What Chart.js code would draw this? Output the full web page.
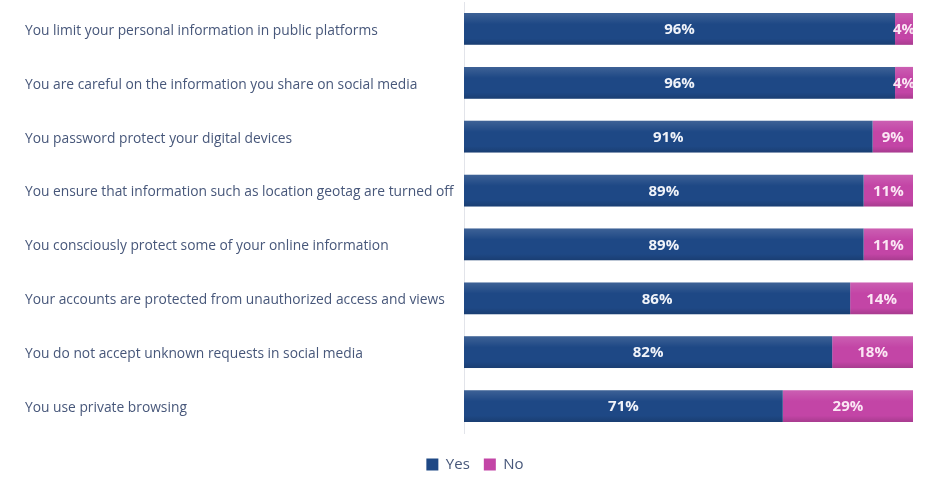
<!DOCTYPE html>
<html>
<head>
<meta charset="utf-8">
<script src="https://cdn.jsdelivr.net/npm/chart.js@4/dist/chart.umd.min.js"></script>
<style>
  html, body { margin: 0; padding: 0; background: #ffffff; }
  #wrap { width: 925px; height: 483px; position: relative; }
</style>
</head>
<body>
<div id="wrap"><canvas id="c"></canvas></div>
<script>
// Survey statements and shares of respondents answering Yes / No (%)
const categories = [
  'You limit your personal information in public platforms',
  'You are careful on the information you share on social media',
  'You password protect your digital devices',
  'You ensure that information such as location geotag are turned off',
  'You consciously protect some of your online information',
  'Your accounts are protected from unauthorized access and views',
  'You do not accept unknown requests in social media',
  'You use private browsing'
];
const yesValues = [96, 96, 91, 89, 89, 86, 82, 71];
const noValues  = [4, 4, 9, 11, 11, 14, 18, 29];
const seriesNames = ['Yes', 'No'];

const NAVY = '#1e4885';
const MAGENTA = '#c345a6';

// Soft vertical sheen over each bar
const barSheen = {
  id: 'barSheen',
  afterDatasetsDraw(chart) {
    const ctx = chart.ctx;
    chart.data.datasets.forEach((ds, di) => {
      chart.getDatasetMeta(di).data.forEach(bar => {
        const top = bar.y - bar.height / 2;
        const bottom = bar.y + bar.height / 2;
        const g = ctx.createLinearGradient(0, top, 0, bottom);
        g.addColorStop(0, 'rgba(255,255,255,0.14)');
        g.addColorStop(0.35, 'rgba(255,255,255,0.0)');
        g.addColorStop(0.8, 'rgba(0,0,0,0.0)');
        g.addColorStop(1, 'rgba(0,0,0,0.14)');
        ctx.save();
        ctx.fillStyle = g;
        ctx.fillRect(Math.min(bar.base, bar.x), top, Math.abs(bar.x - bar.base), bar.height);
        ctx.restore();
      });
    });
  }
};

// Percentage labels centred in each segment
const segmentLabels = {
  id: 'segmentLabels',
  afterDatasetsDraw(chart) {
    const ctx = chart.ctx;
    const area = chart.chartArea;
    ctx.save();
    ctx.beginPath();
    ctx.rect(area.left, area.top, area.right - area.left, area.bottom - area.top);
    ctx.clip();
    ctx.font = 'bold 15px "Open Sans", Lato, sans-serif';
    ctx.textAlign = 'center';
    ctx.textBaseline = 'middle';
    chart.data.datasets.forEach((ds, di) => {
      ctx.fillStyle = di === 0 ? '#f0f3f9' : '#fbe6f4';
      chart.getDatasetMeta(di).data.forEach((bar, i) => {
        const cx = (bar.x + bar.base) / 2;
        ctx.fillText(ds.data[i] + '%', cx, bar.y + 1);
      });
    });
    ctx.restore();
  }
};

// Place the bottom legend slightly right of centre and a bit lower
const legendShift = {
  id: 'legendShift',
  afterLayout(chart) {
    const lg = chart.legend;
    if (lg) {
      lg.left += 6;
      lg.right += 6;
      lg.top += 10;
      lg.bottom += 10;
    }
  }
};

new Chart(document.getElementById('c'), {
  type: 'bar',
  data: {
    labels: categories,
    datasets: [
      { label: seriesNames[0], data: yesValues, backgroundColor: NAVY },
      { label: seriesNames[1], data: noValues, backgroundColor: MAGENTA }
    ]
  },
  options: {
    indexAxis: 'y',
    responsive: true,
    maintainAspectRatio: false,
    animation: false,
    datasets: { bar: { barPercentage: 0.59, categoryPercentage: 1.0 } },
    layout: { padding: { left: 25, right: 12, top: 2, bottom: 11 } },
    scales: {
      x: { stacked: true, min: 0, max: 100, display: false },
      y: {
        stacked: true,
        grid: { display: false, drawTicks: false },
        border: { display: true, color: '#e2e4ea', width: 1 },
        ticks: {
          crossAlign: 'far',
          padding: 0,
          labelOffset: 2,
          color: '#47577a',
          font: { family: '"Open Sans", Lato, sans-serif', size: 13.8 }
        },
        afterFit(scale) {
          scale.width = 439;
          scale.paddingTop = 0;
          scale.paddingBottom = 0;
        }
      }
    },
    plugins: {
      legend: {
        position: 'bottom',
        labels: {
          boxWidth: 12,
          boxHeight: 12,
          padding: 14,
          color: '#47577a',
          font: { family: '"Open Sans", Lato, sans-serif', size: 15 }
        }
      },
      tooltip: { enabled: false }
    }
  },
  plugins: [barSheen, segmentLabels, legendShift]
});
</script>
</body>
</html>
